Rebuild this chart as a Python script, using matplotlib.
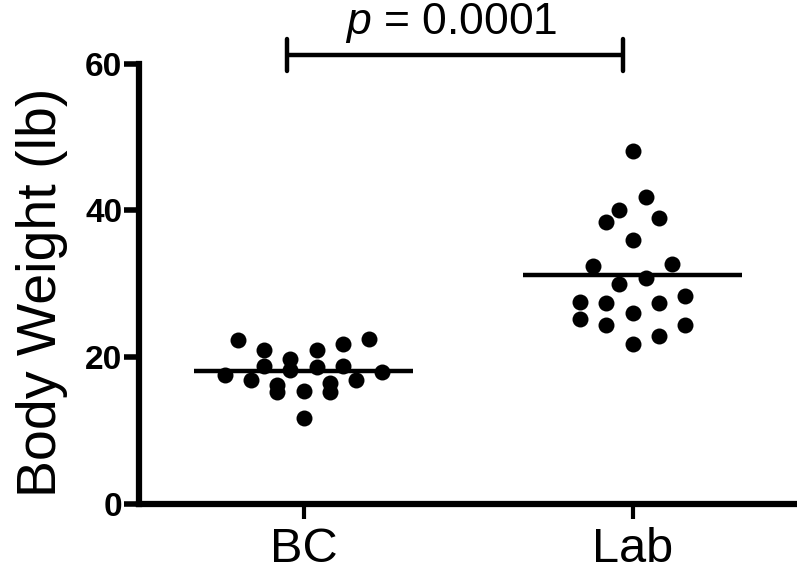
import numpy as np
import matplotlib
matplotlib.use("Agg")
import matplotlib.pyplot as plt

plt.rcParams['font.family'] = ['Liberation Sans', 'DejaVu Sans']
plt.rcParams['mathtext.fontset'] = 'custom'
plt.rcParams['mathtext.it'] = 'Liberation Sans:italic'
plt.rcParams['mathtext.rm'] = 'Liberation Sans'

# data
groups = ["BC", "Lab"]
bc_weight = [22.3, 21.0, 18.8, 17.5, 16.8, 19.7, 18.2, 16.1, 15.2, 15.4,
             11.7, 20.9, 18.6, 16.5, 15.2, 21.8, 18.8, 16.8, 22.5, 17.9]
bc_col = [-5, -3, -3, -6, -4, -1, -1, -2, -2, 0,
          0, 1, 1, 2, 2, 3, 3, 4, 5, 6]
lab_weight = [48.1, 41.8, 40.0, 38.4, 38.9, 36.0, 32.4, 32.6, 30.8, 29.9,
              27.5, 27.3, 26.0, 27.3, 28.3, 25.1, 24.4, 24.4, 21.8, 22.8]
lab_col = [0, 1, -1, -2, 2, 0, -3, 3, 1, -1,
           -4, -2, 0, 2, 4, -4, -2, 4, 0, 2]
p_text = "$p$ = 0.0001"
yticks = [0, 20, 40, 60]

col_w = 0.04  # spacing of the scatter columns

fig = plt.figure(figsize=(7.97, 5.71), dpi=100)
ax = fig.add_axes([139 / 797, 67.5 / 571, 658 / 797, 440 / 571])

for i, (w, c) in enumerate([(bc_weight, bc_col), (lab_weight, lab_col)]):
    xs = i + np.array(c) * col_w
    ax.plot(xs, w, 'o', color='black', ms=11.5, mec='none', zorder=3)
    m = np.mean(w)
    ax.plot([i - 0.332, i + 0.332], [m, m], color='black', lw=3.2,
            solid_capstyle='butt', zorder=2)

ax.set_xlim(-0.5, 1.5)
ax.set_ylim(0, 60)
ax.set_xticks([0, 1])
ax.set_xticklabels(groups, fontsize=35)
ax.set_yticks(yticks)
ax.set_yticklabels([str(t) for t in yticks], fontsize=24, fontweight='bold')
ax.set_ylabel("Body Weight (lb)", fontsize=40)
ax.yaxis.set_label_coords(-0.108, 0.48)

for s in ['top', 'right']:
    ax.spines[s].set_visible(False)
for s in ['left', 'bottom']:
    ax.spines[s].set_linewidth(4.5)
    ax.spines[s].set_capstyle('projecting')
ax.tick_params(axis='y', length=11, width=4, pad=1)
ax.tick_params(axis='x', length=11, width=3, pad=6)

# significance bracket
bx0, bx1 = -0.05, 0.97
ax.plot([bx0, bx1], [61.2, 61.2], color='black', lw=3.2, clip_on=False,
        solid_capstyle='butt')
for bx in [bx0, bx1]:
    ax.plot([bx, bx], [59.0, 63.4], color='black', lw=3.2, clip_on=False,
            solid_capstyle='round')
ax.text((bx0 + bx1) / 2 - 0.01, 64.0, p_text, fontsize=32, ha='center',
        va='baseline', clip_on=False)

fig.savefig("out.png", dpi=100)
